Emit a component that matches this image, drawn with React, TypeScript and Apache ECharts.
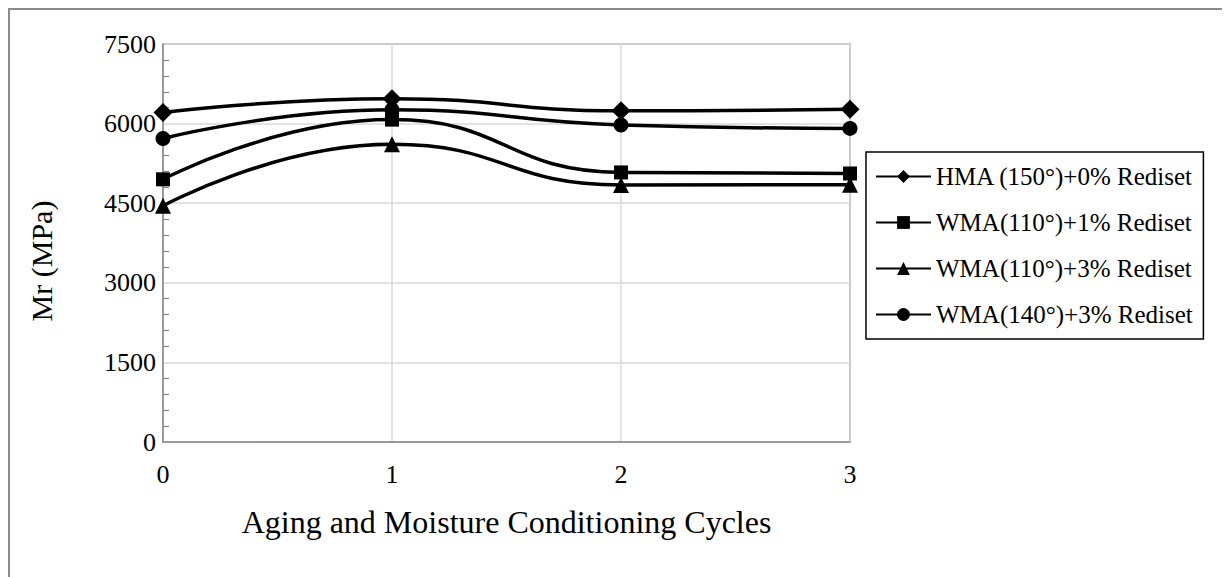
import React, { useEffect, useRef } from "react";
import * as echarts from "echarts";

const cycles = [0, 1, 2, 3];
const seriesNames = [
  "HMA (150°)+0% Rediset",
  "WMA(110°)+1% Rediset",
  "WMA(110°)+3% Rediset",
  "WMA(140°)+3% Rediset",
];
const hma150 = [6210, 6470, 6240, 6270];
const wma110p1 = [4950, 6075, 5080, 5060];
const wma110p3 = [4450, 5610, 4845, 4850];
const wma140p3 = [5720, 6260, 5975, 5910];
const yTicks = [0, 1500, 3000, 4500, 6000, 7500];

const FONT = "'Liberation Serif', 'Times New Roman', serif";

export default function App() {
  const ref = useRef<HTMLDivElement>(null);
  useEffect(() => {
    if (!ref.current) return;
    const chart = echarts.init(ref.current, undefined, { renderer: "svg" });
    const values = [hma150, wma110p1, wma110p3, wma140p3];
    const symbols = ["diamond", "rect", "triangle", "circle"];
    const sizes = [19, 14, 16, 15];
    chart.setOption({
      animation: false,
      backgroundColor: "#fff",
      grid: {
        left: 155,
        top: 36,
        width: 687,
        height: 398,
        show: true,
        borderColor: "#8a8a8a",
        borderWidth: 1.5,
        containLabel: false,
      },
      xAxis: {
        type: "value",
        min: 0,
        max: 3,
        interval: 1,
        name: "Aging and Moisture Conditioning Cycles",
        nameLocation: "middle",
        nameGap: 64,
        nameTextStyle: { fontFamily: FONT, fontSize: 32, color: "#000" },
        axisLine: { show: true, lineStyle: { color: "#8a8a8a", width: 1.5 } },
        axisTick: { show: false },
        axisLabel: {
          fontFamily: FONT,
          fontSize: 26,
          color: "#000",
          margin: 19,
        },
        splitLine: { show: true, lineStyle: { color: "#d9d9d9", width: 1.5 } },
      },
      yAxis: {
        type: "value",
        min: yTicks[0],
        max: yTicks[yTicks.length - 1],
        interval: 1500,
        axisLine: { show: true, lineStyle: { color: "#8a8a8a", width: 1.5 } },
        axisTick: { show: false },
        minorTick: {
          show: true,
          splitNumber: 5,
          length: -6,
          lineStyle: { color: "#8a8a8a", width: 1.2 },
        },
        axisLabel: {
          fontFamily: FONT,
          fontSize: 26,
          color: "#000",
          margin: 7,
          formatter: (v: number) => String(v),
        },
        splitLine: { show: true, lineStyle: { color: "#d9d9d9", width: 1.5 } },
      },
      legend: {
        orient: "vertical",
        left: 858,
        top: 144,
        itemWidth: 55,
        itemHeight: 16,
        itemGap: 21,
        padding: [12, 10, 12, 9],
        borderColor: "#000",
        borderWidth: 1.5,
        textStyle: { fontFamily: FONT, fontSize: 25, color: "#000" },
        data: seriesNames,
      },
      graphic: [
        {
          type: "line",
          shape: { x1: 1, y1: 0, x2: 1, y2: 569 },
          style: { stroke: "#8a8a8a", lineWidth: 2 },
        },
        {
          type: "line",
          shape: { x1: 0, y1: 1, x2: 1222, y2: 1 },
          style: { stroke: "#8a8a8a", lineWidth: 2 },
        },
        {
          type: "text",
          x: 33,
          y: 253,
          rotation: Math.PI / 2,
          style: {
            text: "Mr (MPa)",
            fontFamily: FONT,
            fontSize: 30,
            fill: "#000",
            align: "center",
            verticalAlign: "middle",
          },
        },
      ],
      series: seriesNames.map((name, i) => ({
        name,
        type: "line",
        smooth: 0.5,
        data: cycles.map((c, j) => [c, values[i][j]]),
        symbol: symbols[i],
        symbolSize: sizes[i],
        showSymbol: true,
        lineStyle: { color: "#000", width: 3.5 },
        itemStyle: { color: "#000" },
        z: 3,
      })),
    });
    return () => chart.dispose();
  }, []);
  return <div ref={ref} style={{ width: 1222, height: 569 }} />;
}
